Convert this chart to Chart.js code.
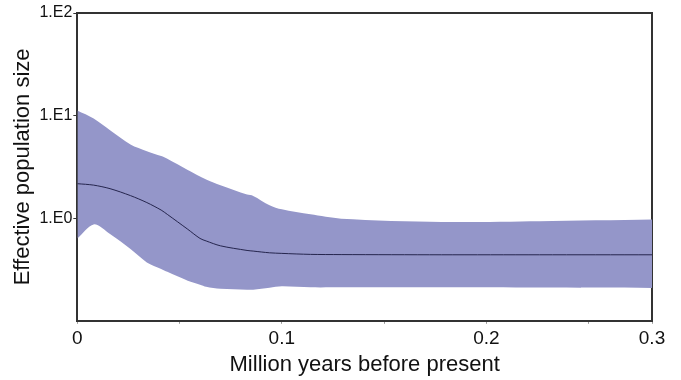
<!DOCTYPE html>
<html>
<head>
<meta charset="utf-8">
<script src="https://cdn.jsdelivr.net/npm/chart.js@4"></script>
<style>
  html, body { margin: 0; padding: 0; background: #fff; }
  #box { width: 681px; height: 380px; }
</style>
</head>
<body>
<div id="box"><canvas id="grafico"></canvas></div>
<script>
// tempos (milhoes de anos) e valores
const tempos = [0, 0.008, 0.016, 0.026, 0.034, 0.041, 0.044, 0.054, 0.06, 0.063, 0.07, 0.083, 0.086, 0.094, 0.1, 0.114, 0.129, 0.178, 0.226, 0.281];
const superior = [11.2, 9.35, 7.2, 5.23, 4.5, 4.03, 3.8, 2.95, 2.55, 2.39, 2.1, 1.7, 1.65, 1.34, 1.22, 1.09, 0.99, 0.92, 0.935, 0.97];
const inferior = [0.635, 0.87, 0.70, 0.50, 0.371, 0.32, 0.30, 0.246, 0.225, 0.215, 0.205, 0.201, 0.201, 0.21, 0.217, 0.212, 0.212, 0.212, 0.211, 0.209];
const mediana = [2.17, 2.10, 1.94, 1.66, 1.42, 1.2, 1.09, 0.78, 0.635, 0.6, 0.538, 0.485, 0.478, 0.46, 0.454, 0.444, 0.442, 0.44, 0.44, 0.44];

// ticks dos eixos
const xTicks = [0, 0.05, 0.1, 0.15, 0.2, 0.25, 0.281];
const xRotulos = ['0', '', '0.1', '', '0.2', '', '0.3'];
const yTicks = [1, 10, 100];
const yRotulos = ['1.E0', '1.E1', '1.E2'];

const cor = 'rgb(148,150,201)';
const fonte = "'Liberation Sans', Arial, sans-serif";

const pontos = vals => tempos.map((t, i) => ({ x: t, y: vals[i] }));

new Chart(document.getElementById('grafico'), {
  type: 'line',
  data: {
    datasets: [
      { data: pontos(inferior), borderWidth: 0, pointRadius: 0, fill: false, tension: 0.3, order: 2 },
      { data: pontos(superior), borderWidth: 0, pointRadius: 0, fill: '-1', backgroundColor: cor, tension: 0.3, order: 2 },
      { data: pontos(mediana), borderColor: '#25254d', borderWidth: 1, pointRadius: 0, fill: false, tension: 0.3, order: 0 }
    ]
  },
  options: {
    responsive: true,
    maintainAspectRatio: false,
    animation: false,
    layout: { padding: { top: 5, right: 21, left: 10, bottom: 2 } },
    plugins: { legend: { display: false }, tooltip: { enabled: false } },
    scales: {
      x: {
        type: 'linear',
        min: 0,
        max: 0.281,
        afterBuildTicks: ax => { ax.ticks = xTicks.map(v => ({ value: v })); },
        ticks: {
          autoSkip: false,
          maxRotation: 0,
          padding: 4,
          color: '#111',
          font: { family: fonte, size: 19 },
          callback: (v, i) => xRotulos[i]
        },
        grid: { display: true, drawOnChartArea: false, tickLength: 3, color: '#999' },
        border: { color: '#333', width: 2 },
        title: {
          display: true,
          text: 'Million years before present',
          color: '#111',
          font: { family: fonte, size: 22 },
          padding: { top: -3, bottom: 0 }
        }
      },
      y: {
        type: 'logarithmic',
        min: 0.1,
        max: 100,
        afterBuildTicks: ax => { ax.ticks = yTicks.map(v => ({ value: v })); },
        ticks: {
          padding: 1,
          color: '#111',
          font: { family: fonte, size: 16 },
          callback: (v, i) => yRotulos[i]
        },
        grid: { display: true, drawOnChartArea: false, tickLength: 4, color: '#333' },
        border: { color: '#333', width: 2 },
        title: {
          display: true,
          text: 'Effective population size',
          color: '#111',
          font: { family: fonte, size: 22 },
          padding: { top: 0, bottom: 2 }
        }
      },
      x2: {
        type: 'linear',
        position: 'top',
        ticks: { display: false },
        grid: { display: false },
        border: { color: '#333', width: 2 }
      },
      y2: {
        type: 'linear',
        position: 'right',
        ticks: { display: false },
        grid: { display: false },
        border: { color: '#333', width: 2 }
      }
    }
  }
});
</script>
</body>
</html>
